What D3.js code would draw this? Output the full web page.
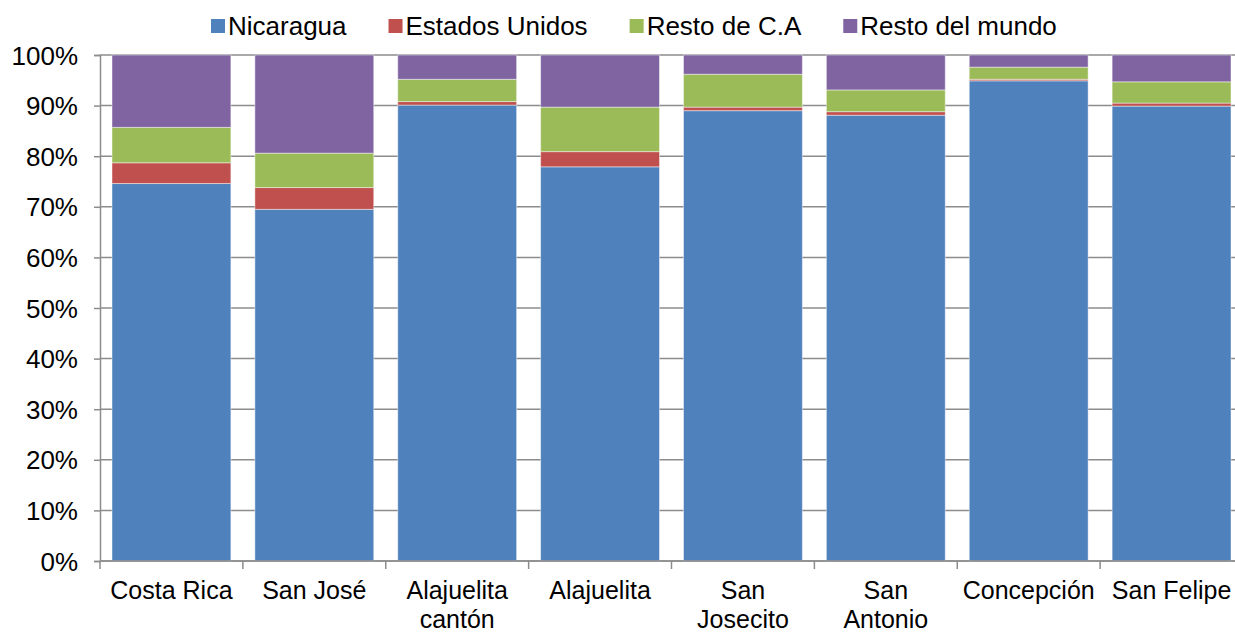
<!DOCTYPE html>
<html>
<head>
<meta charset="utf-8">
<script src="https://cdn.jsdelivr.net/npm/d3@7"></script>
<style>
  body { margin: 0; background: #fff; }
  text { font-family: "Liberation Sans", Arial, sans-serif; fill: #000; }
</style>
</head>
<body>
<svg width="1235" height="634"></svg>
<script>
// categories (multi-line labels split on "|")
var categories = ["Costa Rica", "San José", "Alajuelita|cantón", "Alajuelita",
                  "San|Josecito", "San|Antonio", "Concepción", "San Felipe"];
var seriesNames = ["Nicaragua", "Estados Unidos", "Resto de C.A", "Resto del mundo"];
var colors = ["#4F81BD", "#C0504D", "#9BBB59", "#8064A2"];

// shares in percent
var nicaragua     = [74.6, 69.5, 90.1, 77.9, 89.0, 88.1, 94.9, 89.9];
var estadosUnidos = [ 4.1,  4.3,  0.7,  3.0,  0.7,  0.7,  0.3,  0.6];
var restoCA       = [ 7.0,  6.8,  4.4,  8.8,  6.5,  4.3,  2.4,  4.2];
var restoMundo    = [14.3, 19.4,  4.8, 10.3,  3.8,  6.9,  2.4,  5.3];
var yTicks = [0, 10, 20, 30, 40, 50, 60, 70, 80, 90, 100];

var svg = d3.select("svg");
var margin = {top: 55, left: 100},
    width = 1143,
    height = 506;
var g = svg.append("g").attr("transform", "translate(" + margin.left + "," + margin.top + ")");

var table = categories.map(function(c, i) {
  return {cat: c, s0: nicaragua[i], s1: estadosUnidos[i], s2: restoCA[i], s3: restoMundo[i]};
});
var stack = d3.stack().keys(["s0", "s1", "s2", "s3"]);
var series = stack(table);

var x = d3.scaleBand().domain(categories).range([0, width]).paddingInner(0.168).paddingOuter(0.084);
var y = d3.scaleLinear().domain([0, 100]).range([height, 0]);

// gridlines
g.selectAll(".grid").data(yTicks).enter().append("line")
    .attr("x1", 0).attr("x2", width)
    .attr("y1", function(d) { return y(d); })
    .attr("y2", function(d) { return y(d); })
    .attr("stroke", "#8c8c8c")
    .attr("stroke-width", 1.5);

// bars
g.selectAll(".series").data(series).enter().append("g")
    .attr("fill", function(d, i) { return colors[i]; })
  .selectAll("rect").data(function(d) { return d; }).enter().append("rect")
    .attr("x", function(d) { return x(d.data.cat); })
    .attr("width", x.bandwidth())
    .attr("y", function(d) { return y(d[1]); })
    .attr("height", function(d) { return y(d[0]) - y(d[1]); })
    .attr("stroke", "rgba(255,255,255,0.45)")
    .attr("stroke-width", 1);

// y axis
var yAxis = g.append("g")
    .call(d3.axisLeft(y).tickValues(yTicks).tickFormat(function(d) { return d + "%"; }).tickSize(6).tickPadding(16));
yAxis.select(".domain").attr("stroke", "#8c8c8c").attr("stroke-width", 1.5);
yAxis.selectAll(".tick line").attr("stroke", "#8c8c8c").attr("stroke-width", 1.5);
yAxis.selectAll("text").style("font-size", "26px").attr("font-family", "Liberation Sans, Arial, sans-serif").attr("dy", "0.35em");

// x axis
var xAxisG = g.append("g").attr("transform", "translate(0," + height + ")");
xAxisG.append("line").attr("x1", 0).attr("x2", width).attr("stroke", "#8c8c8c").attr("stroke-width", 1.5);
var bounds = d3.range(categories.length + 1).map(function(i) { return i * width / categories.length; });
xAxisG.selectAll(".xt").data(bounds).enter().append("line")
    .attr("x1", function(d) { return d; }).attr("x2", function(d) { return d; })
    .attr("y1", 0).attr("y2", 8)
    .attr("stroke", "#8c8c8c").attr("stroke-width", 1.5);

var labels = xAxisG.selectAll(".xl").data(categories).enter().append("text")
    .attr("text-anchor", "middle")
    .style("font-size", "25px")
    .attr("transform", function(d) { return "translate(" + (x(d) + x.bandwidth() / 2) + ",38)"; });
labels.selectAll("tspan").data(function(d) { return d.split("|"); }).enter().append("tspan")
    .attr("x", 0)
    .attr("dy", function(d, i) { return i === 0 ? 0 : 29; })
    .text(function(d) { return d; });

// legend
var legend = svg.append("g").attr("transform", "translate(211,26)");
var lx = 0;
seriesNames.forEach(function(name, i) {
  var item = legend.append("g").attr("transform", "translate(" + lx + ",0)");
  item.append("rect").attr("x", 0).attr("y", -7).attr("width", 14).attr("height", 14).attr("fill", colors[i]);
  var t = item.append("text").attr("x", 17).attr("dy", "0.35em").style("font-size", "26px").text(name);
  lx += 17 + t.node().getComputedTextLength() + 42;
});
</script>
</body>
</html>
